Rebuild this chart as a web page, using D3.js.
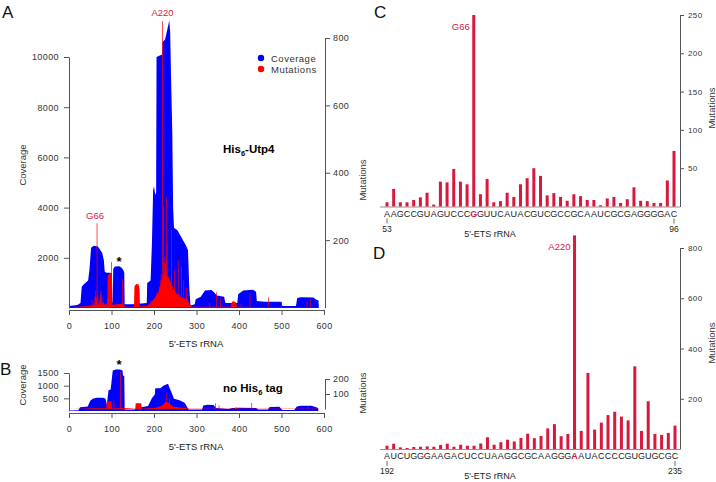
<!DOCTYPE html>
<html>
<head>
<meta charset="utf-8">
<script src="https://cdn.jsdelivr.net/npm/d3@7"></script>
<style>
  body { margin: 0; background: #fff; }
  text { font-family: "Liberation Sans", Arial, sans-serif; }
</style>
</head>
<body>
<svg id="fig" width="716" height="482"></svg>
<script>
// ---- panel A (His6-Utp4): coverage breakpoints [position, reads]
const covA = [[0,80],[20,120],[27,200],[30,850],[35,950],[45,1100],[48,1500],[52,2400],[58,2480],[68,2450],[72,2350],
  [78,2200],[82,1900],[84,1450],[88,1400],[96,1400],[101,1380],[102,200],[103,250],[104,1550],[108,1650],[118,1660],
  [124,1600],[128,1500],[130,1400],[131,150],[150,150],[183,200],[184,1000],[192,1100],[195,2500],[198,4700],[200,4850],
  [203,4500],[205,4600],[206,10000],[219,10100],[220,10600],[226,10700],[230,11000],[236,11450],[238,11000],[240,9300],
  [243,7000],[245,4000],[247,3200],[255,3100],[265,2800],[275,2500],[280,2300],[283,800],[286,100],[296,150],[298,350],
  [310,450],[320,700],[335,720],[340,650],[348,500],[365,450],[368,200],[396,200],[398,550],[410,700],[433,730],[440,650],
  [442,280],[460,250],[466,250],[500,250],[502,80],[534,80],[537,400],[545,430],[575,420],[580,350],[587,300],[588,0]];
// dense mutation fill (envelope) and isolated mutation spikes [position, mutations]
const mutAreaA = [[0,0],[20,2],[40,4],[53,6],[75,10],[90,6],[91,95],[96,102],[101,100],[102,8],[115,10],[128,12],[131,2],
  [153,2],[154,62],[158,70],[164,68],[166,55],[167,3],[185,5],[195,18],[202,28],[210,45],[216,70],[223,100],[230,95],
  [238,80],[246,55],[254,40],[265,30],[278,25],[284,10],[290,2],[380,2],[384,18],[392,16],[396,2],[587,1],[588,0]];
const spikesA = [[100,135],[126,85],[241,230],[248,110],[257,140],[265,120],[270,80],[276,60],[330,15],[347,45],
  [356,30],[388,20],[405,12],[426,42],[470,30],[500,10],[560,18],[568,25]];

// ---- panel B (no His6 tag)
const covB = [[0,20],[22,30],[26,150],[44,180],[50,400],[56,480],[65,520],[80,520],[86,480],[89,250],[93,820],[98,850],
  [100,1150],[103,1600],[110,1640],[120,1640],[126,1600],[127,1400],[130,1380],[131,60],[153,60],[170,150],[186,200],
  [195,500],[202,650],[203,900],[215,900],[222,1000],[233,1080],[237,900],[242,700],[247,480],[260,420],[272,330],
  [275,250],[281,60],[313,60],[316,220],[325,250],[340,240],[346,120],[375,80],[384,120],[400,130],[440,120],[445,60],
  [468,60],[472,160],[495,170],[502,40],[530,40],[536,180],[545,210],[570,210],[580,160],[586,120],[587,0]];
const mutAreaB = [[0,0],[30,2],[60,5],[88,5],[89,52],[100,52],[101,4],[130,6],[156,2],[157,38],[170,38],[171,2],
  [205,8],[220,25],[228,50],[235,40],[245,15],[270,8],[285,2],[390,2],[393,12],[398,2],[587,1],[588,0]];
const spikesB = [[106,55],[121,245],[230,105],[236,70],[345,38],[353,25],[430,40],[562,15]];

// ---- panel C: positions 53-96
const startC = 53;
const seqC = "AAGCCGUAGUCCCGGUUCAUACGUCGCCGCAAUCGCGAGGGGAC".split("");
const mutC = [5.5,23,5.5,5.5,8.5,12,18,2.5,32.5,31.5,49,32.5,29,250,16,36,5.5,7,18,12.5,29,37,50,40,14.5,17.5,12.5,
  7.5,16,13.5,8.5,8.5,1.7,10.5,12.5,4.7,9.5,25,7.5,7,4.7,4.7,34,72.6];

// ---- panel D: positions 192-235
const startD = 192;
const seqD = "AUCUGGGAAGACUCCUAAGGCGCAAGGGAAUACCCCGUGUGCGC".split("");
const mutD = [13,21,6.5,4,8,9,10.5,9,16,21,9,17,13,13,22,47,17,27,37,30,44,61,43,52,82,99,51,60,850,72,303,77,105,
  135,148,129,114,329,72,190,60,56,64,93];

// ticks
const xTicksAB = [0,100,200,300,400,500,600];
const covTicksA = [2000,4000,6000,8000,10000];
const mutTicksA = [200,400,600,800];
const covTicksB = [500,1000,1500];
const mutTicksB = [100,200];
const mutTicksC = [50,100,150,200,250];
const mutTicksD = [200,400,600,800];

const BLUE = "#0000ff", RED = "#ff0000", CRIMSON = "#d7193d", AX = "#555";
const fmt = d3.format("d");
const svg = d3.select("#fig");
svg.append("rect").attr("width",716).attr("height",482).attr("fill","#fff");

function styleAxis(g, fs) {
  g.select(".domain").attr("stroke", AX);
  g.selectAll(".tick line").attr("stroke", AX);
  g.selectAll(".tick text").attr("fill", "#333").style("font-size", fs + "px").style("letter-spacing", "0.4px");
}

function profilePanel(o) {
  let x = d3.scaleLinear().domain([0,600]).range([69,324]);
  let yc = d3.scaleLinear().domain(o.covDomain).range(o.covRange);
  let ym = d3.scaleLinear().domain(o.mutDomain).range(o.mutRange);
  let covArea = d3.area().x(d => x(d[0])).y0(yc(0)).y1(d => yc(d[1]));
  let mutArea = d3.area().x(d => x(d[0])).y0(ym(0)).y1(d => ym(d[1]));
  svg.append("path").datum(o.cov).attr("fill", BLUE).attr("d", covArea);
  svg.append("path").datum(o.mutArea).attr("fill", RED).attr("d", mutArea);
  svg.append("g").selectAll("rect").data(o.spikes).join("rect")
    .attr("x", d => x(d[0]) - 0.35).attr("width", 0.7)
    .attr("y", d => ym(d[1])).attr("height", d => ym(0) - ym(d[1]))
    .attr("fill", RED);

  let gl = svg.append("g").attr("transform", "translate(69,0)")
    .call(d3.axisLeft(yc).tickValues(o.covTicks).tickFormat(fmt).tickSize(5).tickSizeOuter(0).tickPadding(5));
  styleAxis(gl, 9);
  let gr = svg.append("g").attr("transform", "translate(325,0)")
    .call(d3.axisRight(ym).tickValues(o.mutTicks).tickFormat(fmt).tickSize(5).tickSizeOuter(0).tickPadding(3));
  styleAxis(gr, 9);
  let gx = svg.append("g").attr("transform", "translate(0," + o.axisY + ")")
    .call(d3.axisBottom(x).tickValues(xTicksAB).tickFormat(fmt).tickSize(5).tickSizeOuter(0).tickPadding(8));
  styleAxis(gx, 9);

  svg.append("text").attr("x", 196).attr("y", o.axisY + 37).attr("text-anchor", "middle")
    .style("font-size", "9.5px").attr("fill", "#222").text("5'-ETS rRNA");
  svg.append("text").attr("transform", "translate(26," + o.covLabelY + ")rotate(-90)")
    .attr("text-anchor", "middle").style("font-size", "9.5px").attr("fill", "#333").text("Coverage");
  return x;
}

// ---- A
let xA = profilePanel({cov: covA, mutArea: mutAreaA,
  spikes: spikesA.concat(mutC.map((v,i) => [startC + i, v]), mutD.map((v,i) => [startD + i, v])),
  covDomain: [0,10000], covRange: [308,57], mutDomain: [0,800], mutRange: [307.5,38],
  covTicks: covTicksA, mutTicks: mutTicksA, axisY: 310, covLabelY: 165});
svg.append("text").attr("x", xA(66) - 2).attr("y", 219).attr("text-anchor", "middle")
  .style("font-size", "9.5px").attr("fill", CRIMSON).text("G66");
svg.append("text").attr("x", xA(220)).attr("y", 16).attr("text-anchor", "middle")
  .style("font-size", "9.5px").attr("fill", CRIMSON).text("A220");
svg.append("text").attr("x", 119).attr("y", 266).attr("text-anchor", "middle")
  .style("font-size", "13px").style("font-weight", "bold").text("*");
let legend = [["Coverage", BLUE], ["Mutations", RED]];
legend.forEach((l, i) => {
  svg.append("circle").attr("cx", 261).attr("cy", 58 + i * 11).attr("r", 3.2).attr("fill", l[1]);
  svg.append("text").attr("x", 271).attr("y", 61.5 + i * 11).style("font-size", "9.5px")
    .style("letter-spacing", "0.5px").attr("fill", "#333").text(l[0]);
});
let tA = svg.append("text").attr("x", 223).attr("y", 153).style("font-size", "11.5px").style("font-weight", "bold");
tA.append("tspan").text("His");
tA.append("tspan").attr("dy", 3).style("font-size", "7.5px").text("6");
tA.append("tspan").attr("dy", -3).text("-Utp4");

// ---- B
let xB = profilePanel({cov: covB, mutArea: mutAreaB, spikes: spikesB,
  covDomain: [0,1500], covRange: [411,373], mutDomain: [0,200], mutRange: [409,379],
  covTicks: covTicksB, mutTicks: mutTicksB, axisY: 413, covLabelY: 385});
svg.append("text").attr("x", 119).attr("y", 369).attr("text-anchor", "middle")
  .style("font-size", "13px").style("font-weight", "bold").text("*");
let tB = svg.append("text").attr("x", 223).attr("y", 392).style("font-size", "11.5px").style("font-weight", "bold");
tB.append("tspan").text("no His");
tB.append("tspan").attr("dy", 3).style("font-size", "7.5px").text("6");
tB.append("tspan").attr("dy", -3).text(" tag");

// ---- C and D bar panels
function barPanel(o) {
  let pos = o.seq.map((s,i) => o.start + i);
  let x = d3.scalePoint().domain(pos).range(o.xRange);
  let y = d3.scaleLinear().domain(o.yDomain).range(o.yRange);
  svg.append("line").attr("x1", 380).attr("x2", 680).attr("y1", y(0) + 0.5).attr("y2", y(0) + 0.5)
    .attr("stroke", "#777").attr("stroke-width", 0.8);
  svg.append("g").selectAll("rect").data(o.vals).join("rect")
    .attr("x", (d,i) => x(pos[i]) - 1.5).attr("width", 3)
    .attr("y", d => y(d)).attr("height", d => y(0) - y(d)).attr("fill", CRIMSON);
  let ga = svg.append("g").attr("transform", "translate(680,0)")
    .call(d3.axisRight(y).tickValues(o.ticks).tickFormat(fmt).tickSize(4).tickSizeOuter(0).tickPadding(4));
  styleAxis(ga, 8);
  let base = y(0);
  svg.append("g").selectAll("text").data(o.seq).join("text")
    .attr("x", (d,i) => x(pos[i])).attr("y", base + 10).attr("text-anchor", "middle")
    .style("font-size", "9px")
    .attr("fill", (d,i) => pos[i] === o.hit ? CRIMSON : "#222")
    .style("font-weight", (d,i) => pos[i] === o.hit ? "bold" : "normal")
    .text(d => d);
  [pos[0], pos[pos.length - 1]].forEach(p => {
    svg.append("line").attr("x1", x(p)).attr("x2", x(p)).attr("y1", base + 12).attr("y2", base + 17)
      .attr("stroke", "#444").attr("stroke-width", 0.8);
    svg.append("text").attr("x", x(p)).attr("y", base + 25).attr("text-anchor", "middle")
      .style("font-size", "8.5px").attr("fill", "#222").text(p);
  });
  svg.append("text").attr("x", 490).attr("y", base + 30).attr("text-anchor", "middle")
    .style("font-size", "9px").attr("fill", "#222").text("5'-ETS rRNA");
  svg.append("text").attr("transform", "translate(366," + o.leftLabelY + ")rotate(-90)").attr("text-anchor", "middle")
    .style("font-size", "9.5px").attr("fill", "#333").text("Mutations");
  svg.append("text").attr("transform", "translate(715," + o.rightLabelY + ")rotate(-90)").attr("text-anchor", "middle")
    .style("font-size", "9.5px").attr("fill", "#333").text("Mutations");
  svg.append("text").attr("x", x(o.hit) - 4).attr("y", o.hitLabelY).attr("text-anchor", "end")
    .style("font-size", "9.5px").attr("fill", CRIMSON).text(o.hitLabel);
}

barPanel({start: startC, seq: seqC, vals: mutC, xRange: [387,674], yDomain: [0,250], yRange: [206.5,15],
  ticks: mutTicksC, hit: 66, hitLabel: "G66", hitLabelY: 30, leftLabelY: 180, rightLabelY: 108});
barPanel({start: startD, seq: seqD, vals: mutD, xRange: [387,675], yDomain: [0,800], yRange: [449,248],
  ticks: mutTicksD, hit: 220, hitLabel: "A220", hitLabelY: 250, leftLabelY: 393, rightLabelY: 343});

// panel letters
[["A",2,18],["B",0,375],["C",374,18],["D",373,259]].forEach(p => {
  svg.append("text").attr("x", p[1]).attr("y", p[2]).style("font-size", "17px").attr("fill", "#111").text(p[0]);
});
</script>
</body>
</html>
